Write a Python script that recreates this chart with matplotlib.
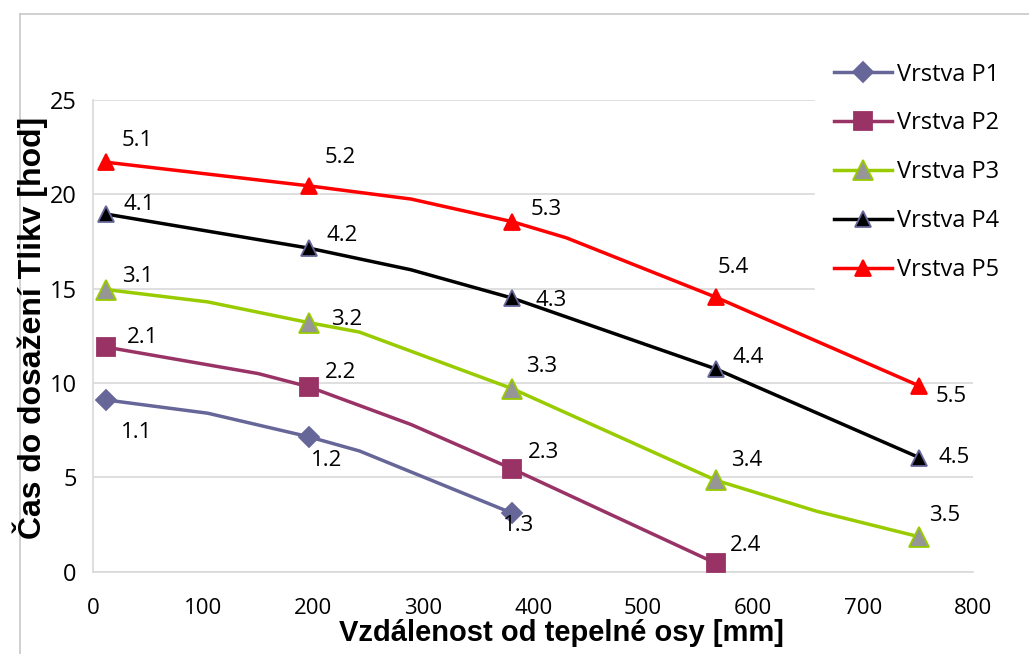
import numpy as np
import matplotlib.pyplot as plt
from matplotlib.lines import Line2D

# Vzdalenost od tepelne osy [mm] - body s popisky
dist = [12, 196, 381, 566, 751]

# Cas do dosazeni Tlikv [hod] pro jednotlive vrstvy
p1 = [9.1, 7.15, 3.1]
p2 = [11.9, 9.8, 5.45, 0.45]
p3 = [14.95, 13.2, 9.7, 4.85, 1.85]
p4 = [18.95, 17.15, 14.5, 10.75, 6.05]
p5 = [21.7, 20.45, 18.55, 14.55, 9.85]

# mezilehle body krivek (bez znacek)
p1_mez_x, p1_mez_y = [104, 242], [8.4, 6.4]
p2_mez_x, p2_mez_y = [150, 289], [10.5, 7.8]
p3_mez_x, p3_mez_y = [104, 242, 658], [14.3, 12.7, 3.2]
p4_mez_x, p4_mez_y = [289], [16.0]
p5_mez_x, p5_mez_y = [289, 430], [19.75, 17.7]

popisky_p1 = ['1.1', '1.2', '1.3']
popisky_p2 = ['2.1', '2.2', '2.3', '2.4']
popisky_p3 = ['3.1', '3.2', '3.3', '3.4', '3.5']
popisky_p4 = ['4.1', '4.2', '4.3', '4.4', '4.5']
popisky_p5 = ['5.1', '5.2', '5.3', '5.4', '5.5']

nazvy = ['Vrstva P1', 'Vrstva P2', 'Vrstva P3', 'Vrstva P4', 'Vrstva P5']

W, H = 1029, 654
fig = plt.figure(figsize=(W / 100, H / 100), dpi=100)
ax = fig.add_axes([93.3 / W, 1 - 571.7 / H, (973 - 93.3) / W, (571.7 - 100) / H])

FONT = 'Open Sans'

def vrstva(x, y, mx, my, barva, znacka, ms, mfc, mec, nazev):
    # spoji body se znackami a mezilehle body do jedne lomene cary
    xs = list(x) + list(mx)
    ys = list(y) + list(my)
    poradi = np.argsort(xs)
    xs = np.array(xs)[poradi]
    ys = np.array(ys)[poradi]
    idx = [int(np.where(xs == v)[0][0]) for v in x]
    ax.plot(xs, ys, color=barva, lw=2.5, marker=znacka, markevery=idx, ms=ms,
            mfc=mfc, mec=mec, mew=1.3, label=nazev, solid_joinstyle='round', zorder=3)

vrstva(dist[:3], p1, p1_mez_x, p1_mez_y, '#666699', 'D', 10, '#666699', '#666699', nazvy[0])
vrstva(dist[:4], p2, p2_mez_x, p2_mez_y, '#993366', 's', 13, '#993366', '#993366', nazvy[1])
vrstva(dist, p3, p3_mez_x, p3_mez_y, '#99CC00', '^', 14, '#969696', '#99CC00', nazvy[2])
vrstva(dist, p4, p4_mez_x, p4_mez_y, '#000000', '^', 12, '#000000', '#666699', nazvy[3])
vrstva(dist, p5, p5_mez_x, p5_mez_y, '#FF0000', '^', 12, '#FF0000', '#FF0000', nazvy[4])

# popisky bodu, posun v pixelech
posuny = {
    '1': [(30, -32), (18, -24), (6, -12)],
    '2': [(36, 10), (32, 14), (31, 16), (30, 18)],
    '3': [(31, 13), (38, 3), (29, 22), (31, 20), (26, 21)],
    '4': [(33, 10), (33, 13), (39, -2), (32, 11), (35, 0)],
    '5': [(31, 22), (31, 28), (34, 12), (18, 30), (32, -11)],
}
for klic, ys, texty in [('1', p1, popisky_p1), ('2', p2, popisky_p2), ('3', p3, popisky_p3),
                        ('4', p4, popisky_p4), ('5', p5, popisky_p5)]:
    for i, (yv, t) in enumerate(zip(ys, texty)):
        ax.annotate(t, (dist[i], yv), xytext=posuny[klic][i], textcoords='offset pixels',
                    ha='center', va='center', fontsize=16, family=FONT, color='black', zorder=4)

ax.set_xlim(0, 800)
ax.set_ylim(0, 25)
ax.set_xticks(range(0, 801, 100))
ax.set_yticks(range(0, 26, 5))
ax.grid(axis='y', color='#d9d9d9', lw=1.2)
ax.set_axisbelow(True)
for s in ['top', 'right']:
    ax.spines[s].set_visible(False)
for s in ['left', 'bottom']:
    ax.spines[s].set_color('#d9d9d9')
    ax.spines[s].set_linewidth(1.2)
ax.tick_params(length=0)
ax.tick_params(axis='y', pad=12, labelsize=17)
ax.tick_params(axis='x', pad=19, labelsize=16)
for t in ax.get_yticklabels():
    t.set_family(FONT)
for t in ax.get_xticklabels():
    t.set_family(FONT)

fig.text(561.5 / W, 1 - 633 / H, 'Vzdálenost od tepelné osy [mm]', ha='center', va='center',
         fontsize=21, fontweight='bold', family='Liberation Sans')
fig.text(30 / W, 1 - 328 / H, 'Čas do dosažení Tlikv [hod]', ha='center', va='center',
         rotation=90, fontsize=23, fontweight='bold', family='Liberation Sans')

leg = ax.legend(loc='upper left', bbox_to_anchor=(803 / W, 1 - 32 / H), bbox_transform=fig.transFigure,
                prop={'family': FONT, 'size': 17}, frameon=True, fancybox=False,
                labelspacing=1.05, handlelength=2.45, handletextpad=0.25, borderpad=0.8)
leg.get_frame().set_facecolor('white')
leg.get_frame().set_edgecolor('white')
leg.get_frame().set_alpha(1)

# tenky ramecek grafu
fig.add_artist(Line2D([20 / W, 20 / W], [0, 1 - 14 / H], color='#c8c8c8', lw=1.2))
fig.add_artist(Line2D([20 / W, 1], [1 - 14 / H, 1 - 14 / H], color='#c8c8c8', lw=1.2))

fig.savefig('out.png', dpi=100)
